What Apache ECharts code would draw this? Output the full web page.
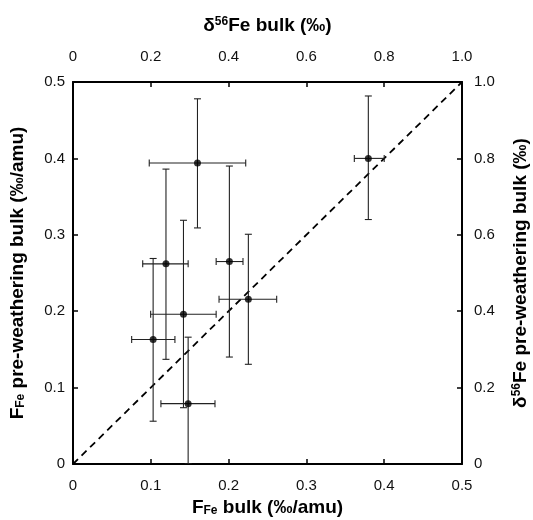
<!DOCTYPE html>
<html><head><meta charset="utf-8">
<script src="https://cdn.jsdelivr.net/npm/echarts@6/dist/echarts.min.js"></script>
<style>html,body{margin:0;padding:0;background:#fff}#c{width:533px;height:520px}</style>
</head><body><div id="c"></div>
<script>
// Data (F_Fe bulk, F_Fe pre-weathering bulk, with error bounds)
const xVals  = [0.160, 0.1195, 0.201, 0.103, 0.142, 0.148, 0.2254, 0.3796];
const yVals  = [0.394, 0.262, 0.265, 0.163, 0.196, 0.079, 0.2156, 0.400];
const xLow   = [0.098, 0.0896, 0.184, 0.0754, 0.0998, 0.113, 0.1877, 0.3616];
const xHigh  = [0.222, 0.148, 0.2185, 0.131, 0.184, 0.1825, 0.2618, 0.400];
const yLow   = [0.309, 0.137, 0.140, 0.056, 0.0737, 0.0, 0.1305, 0.320];
const yHigh  = [0.478, 0.386, 0.390, 0.269, 0.319, 0.166, 0.3007, 0.4817];
const oneToOne = [[0, 0], [0.5, 0.5]];
const bottomTicks = [0, 0.1, 0.2, 0.3, 0.4, 0.5];
const topTicks = [0, 0.2, 0.4, 0.6, 0.8, 1.0];

const FONT = 'Liberation Sans, Arial, sans-serif';
const fmt = v => (Math.abs(v) < 1e-9 ? '0' : (+v).toFixed(1));
const errData = xVals.map((x, i) => [x, yVals[i], xLow[i], xHigh[i], yLow[i], yHigh[i]]);

const chart = echarts.init(document.getElementById('c'));
const axisCommon = {
  axisLine: {show: true, onZero: false, lineStyle: {color: '#000', width: 2}},
  axisTick: {show: true, inside: true, length: 5, lineStyle: {color: '#000', width: 1.5}},
  splitLine: {show: false},
  axisLabel: {color: '#111', fontSize: 15, fontFamily: FONT, formatter: fmt},
  nameLocation: 'middle',
  nameTextStyle: {color: '#000', fontSize: 19, fontWeight: 'bold', fontFamily: FONT}
};
const rich = {
  n: {fontSize: 19, fontWeight: 'bold', fontFamily: FONT, color: '#000'},
  sup: {fontSize: 12, fontWeight: 'bold', fontFamily: FONT, color: '#000', verticalAlign: 'top', padding: [0, 0, 7, 0]},
  sub: {fontSize: 12, fontWeight: 'bold', fontFamily: FONT, color: '#000', verticalAlign: 'bottom', padding: [7, 0, 0, 0]}
};
chart.setOption({
  animation: false,
  backgroundColor: '#fff',
  grid: {left: 73, right: 71, top: 82, bottom: 56, containLabel: false, outerBoundsMode: 'none'},
  xAxis: [
    Object.assign({}, axisCommon, {type: 'value', position: 'bottom', min: bottomTicks[0], max: bottomTicks[bottomTicks.length-1], interval: 0.1,
      name: '{n|F}{sub|Fe}{n| bulk (‰/amu)}', nameGap: 25,
      nameTextStyle: Object.assign({}, axisCommon.nameTextStyle, {rich}),
      axisLabel: Object.assign({}, axisCommon.axisLabel, {margin: 14})}),
    Object.assign({}, axisCommon, {type: 'value', position: 'top', min: topTicks[0], max: topTicks[topTicks.length-1], interval: 0.2,
      name: '{n|δ}{sup|56}{n|Fe bulk (‰)}', nameGap: 47,
      nameTextStyle: Object.assign({}, axisCommon.nameTextStyle, {rich}),
      axisLabel: Object.assign({}, axisCommon.axisLabel, {margin: 18})})
  ],
  yAxis: [
    Object.assign({}, axisCommon, {type: 'value', position: 'left', min: 0, max: 0.5, interval: 0.1,
      name: '{n|F}{sub|Fe}{n| pre-weathering bulk (‰/amu)}', nameGap: 46,
      nameTextStyle: Object.assign({}, axisCommon.nameTextStyle, {rich}),
      axisLabel: Object.assign({}, axisCommon.axisLabel, {margin: 8})}),
    Object.assign({}, axisCommon, {type: 'value', position: 'right', min: 0, max: 1.0, interval: 0.2,
      name: '{n|δ}{sup|56}{n|Fe pre-weathering bulk (‰)}', nameGap: 49, nameRotate: 90,
      nameTextStyle: Object.assign({}, axisCommon.nameTextStyle, {rich}),
      axisLabel: Object.assign({}, axisCommon.axisLabel, {margin: 12})})
  ],
  series: [
    {type: 'line', data: oneToOne, xAxisIndex: 0, yAxisIndex: 0, symbol: 'none',
      lineStyle: {color: '#000', width: 1.8, type: [7, 5]}, z: 2},
    {type: 'custom', xAxisIndex: 0, yAxisIndex: 0, data: errData, clip: true, z: 3,
      renderItem: function (params, api) {
        const x = api.value(0), y = api.value(1);
        const pL = api.coord([api.value(2), y]), pR = api.coord([api.value(3), y]);
        const pB = api.coord([x, api.value(4)]), pT = api.coord([x, api.value(5)]);
        const c = 3.5;
        const st = {stroke: '#222', lineWidth: 1.1};
        const ln = (x1, y1, x2, y2) => ({type: 'line', shape: {x1, y1, x2, y2}, style: st});
        return {type: 'group', children: [
          ln(pL[0], pL[1], pR[0], pR[1]),
          ln(pL[0], pL[1] - c, pL[0], pL[1] + c),
          ln(pR[0], pR[1] - c, pR[0], pR[1] + c),
          ln(pB[0], pB[1], pT[0], pT[1]),
          ln(pB[0] - c, pB[1], pB[0] + c, pB[1]),
          ln(pT[0] - c, pT[1], pT[0] + c, pT[1])
        ]};
      }},
    {type: 'scatter', xAxisIndex: 0, yAxisIndex: 0, data: xVals.map((x, i) => [x, yVals[i]]),
      symbol: 'circle', symbolSize: 7, itemStyle: {color: '#000'}, z: 4}
  ]
});
</script></body></html>
